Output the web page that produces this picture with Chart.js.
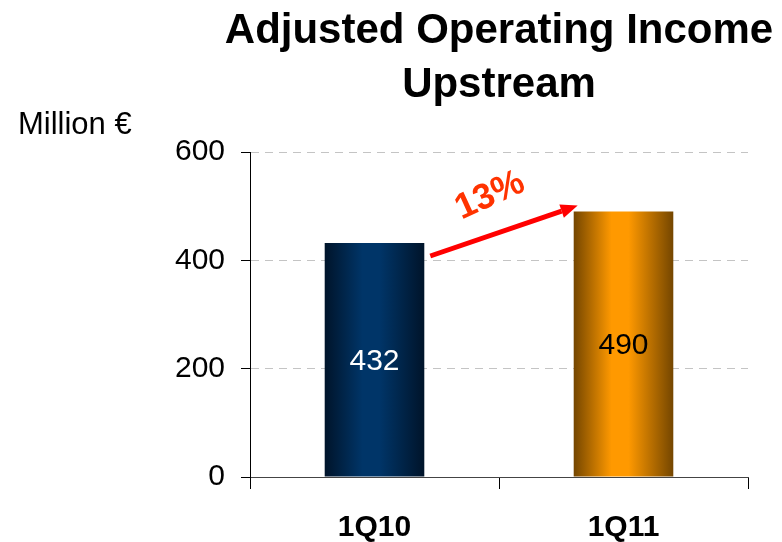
<!DOCTYPE html>
<html>
<head>
<meta charset="utf-8">
<script src="https://cdn.jsdelivr.net/npm/chart.js@4.4.0/dist/chart.umd.min.js"></script>
<style>
  html, body { margin: 0; padding: 0; background: #fff; }
  #wrap { width: 782px; height: 542px; position: relative; }
</style>
</head>
<body>
<div id="wrap"><canvas id="grafica"></canvas></div>
<script>
var trimestres = ['1Q10', '1Q11'];
var ingresos = [432, 490];
var tituloLineas = ['Adjusted Operating Income', 'Upstream'];
var unidad = 'Million \u20ac';
var ticksY = [0, 200, 400, 600];

// colores de cada barra: borde oscuro, centro claro
var tonos = [
    { borde: '#00142a', centro: '#003568', texto: '#ffffff' },
    { borde: '#744600', centro: '#ff9900', texto: '#000000' }
];

function degradado(c) {
    var chart = c.chart;
    if (!chart.chartArea) return tonos[c.dataIndex].centro;
    var xs = chart.scales.x;
    var cx = xs.getPixelForValue(c.dataIndex);
    var w = xs.width / trimestres.length * 0.4;
    var g = chart.ctx.createLinearGradient(cx - w / 2, 0, cx + w / 2, 0);
    var t = tonos[c.dataIndex];
    g.addColorStop(0, t.borde);
    g.addColorStop(0.38, t.centro);
    g.addColorStop(0.55, t.centro);
    g.addColorStop(1, t.borde);
    return g;
}

var textos = {
    id: 'textos',
    afterDatasetsDraw: function(chart) {
        var ctx = chart.ctx;
        var area = chart.chartArea;
        var meta = chart.getDatasetMeta(0);
        ctx.save();

        // titulo
        ctx.fillStyle = '#000';
        ctx.textAlign = 'center';
        ctx.textBaseline = 'middle';
        ctx.font = 'bold 42px "Liberation Sans", Arial, sans-serif';
        var cx = (area.left + area.right) / 2;
        ctx.fillText(tituloLineas[0], cx, 31);
        ctx.fillText(tituloLineas[1], cx, 85);

        // unidad
        ctx.textAlign = 'left';
        ctx.font = '31px "Liberation Sans", Arial, sans-serif';
        ctx.fillText(unidad, 18, 125);

        // valores dentro de las barras
        ctx.textAlign = 'center';
        ctx.font = '30px "Liberation Sans", Arial, sans-serif';
        meta.data.forEach(function(bar, i) {
            ctx.fillStyle = tonos[i].texto;
            ctx.fillText(String(ingresos[i]), bar.x, (bar.y + bar.base) / 2 + 2);
        });

        // flecha de crecimiento
        var b1 = meta.data[0], b2 = meta.data[1];
        var x1 = b1.x + b1.width / 2 + 6, y1 = b1.y + 13;
        var x2 = b2.x - b2.width / 2 + 4, y2 = b2.y - 6;
        var ang = Math.atan2(y2 - y1, x2 - x1);
        var cabeza = 17;
        ctx.strokeStyle = '#ff0000';
        ctx.fillStyle = '#ff0000';
        ctx.lineWidth = 5;
        ctx.beginPath();
        ctx.moveTo(x1, y1);
        ctx.lineTo(x2 - cabeza * Math.cos(ang), y2 - cabeza * Math.sin(ang));
        ctx.stroke();
        ctx.beginPath();
        ctx.moveTo(x2, y2);
        ctx.lineTo(x2 - cabeza * Math.cos(ang) + 7 * Math.sin(ang), y2 - cabeza * Math.sin(ang) - 7 * Math.cos(ang));
        ctx.lineTo(x2 - cabeza * Math.cos(ang) - 7 * Math.sin(ang), y2 - cabeza * Math.sin(ang) + 7 * Math.cos(ang));
        ctx.closePath();
        ctx.fill();

        // porcentaje
        var pct = Math.round((ingresos[1] / ingresos[0] - 1) * 100) + '%';
        var mx = (x1 + x2) / 2 + 37 * Math.sin(ang);
        var my = (y1 + y2) / 2 - 37 * Math.cos(ang);
        ctx.translate(mx - 2, my);
        ctx.rotate(ang - 0.1);
        ctx.fillStyle = '#ff3300';
        ctx.font = 'bold 36px "Liberation Sans", Arial, sans-serif';
        ctx.fillText(pct, 0, 0);
        ctx.restore();
    }
};

var data = {
    labels: trimestres,
    datasets: [{
        label: 'Upstream',
        data: ingresos,
        backgroundColor: degradado,
        borderWidth: 0,
        barPercentage: 0.4,
        categoryPercentage: 1
    }]
};

var config = {
    type: 'bar',
    data: data,
    options: {
        responsive: false,
        animation: false,
        layout: { padding: { top: 152, right: 34, left: 0, bottom: 0 } },
        plugins: {
            legend: { display: false },
            tooltip: { enabled: false }
        },
        scales: {
            x: {
                grid: {
                    display: true,
                    drawOnChartArea: false,
                    offset: true,
                    tickLength: 12,
                    color: '#000',
                    tickColor: '#000'
                },
                border: { color: '#444', width: 1 },
                ticks: {
                    color: '#000',
                    padding: 21,
                    font: { family: '"Liberation Sans", Arial, sans-serif', size: 30, weight: 'bold' }
                },
                afterFit: function(s) { s.height = 65; }
            },
            y: {
                min: 0,
                max: 600,
                afterBuildTicks: function(s) {
                    s.ticks = ticksY.map(function(v) { return { value: v }; });
                },
                grid: {
                    color: '#c4c4c4',
                    tickColor: '#000',
                    tickLength: 9,
                    lineWidth: 1
                },
                border: { color: '#000', width: 1, dash: [8, 6] },
                ticks: {
                    color: '#000',
                    padding: 16,
                    font: { family: '"Liberation Sans", Arial, sans-serif', size: 30 }
                },
                afterFit: function(s) { s.width = 250; }
            }
        }
    },
    plugins: [textos]
};

var canvas = document.getElementById('grafica');
canvas.width = 782;
canvas.height = 542;
var grafica = new Chart(canvas, config);
</script>
</body>
</html>
